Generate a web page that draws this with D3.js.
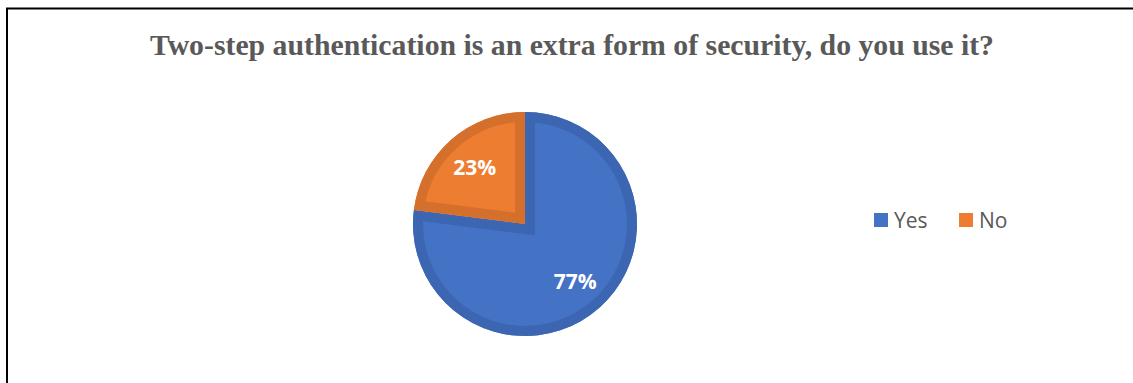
<!DOCTYPE html>
<html>
<head>
<meta charset="utf-8">
<script src="https://cdn.jsdelivr.net/npm/d3@7/dist/d3.min.js"></script>
<style>
  html, body { margin: 0; padding: 0; background: #ffffff; }
  svg { display: block; }
</style>
</head>
<body>
<svg id="chart" width="1133" height="383"></svg>
<script>
// Survey answers
const categories = ["Yes", "No"];
const values = [77, 23];
const labels = ["77%", "23%"];
const fillColors = ["#4472C4", "#ED7D31"];
const edgeColors = ["#3D66B2", "#D5702C"];
const titleText = "Two-step authentication is an extra form of security, do you use it?";

const width = 1133, height = 383;
const svg = d3.select("#chart");

// Frame: top and left rules
svg.append("path")
  .attr("d", "M7,383 L7,8.5 L1133,8.5")
  .attr("fill", "none")
  .attr("stroke", "#000")
  .attr("stroke-width", 2);

// Title
svg.append("text")
  .attr("x", 572)
  .attr("y", 55)
  .attr("text-anchor", "middle")
  .attr("font-family", "'Liberation Serif', 'Times New Roman', serif")
  .attr("font-weight", "bold")
  .attr("font-size", 29)
  .attr("fill", "#595959")
  .attr("textLength", 844)
  .attr("lengthAdjust", "spacingAndGlyphs")
  .text(titleText);

// Pie
const cx = 525, cy = 224, radius = 112, band = 10;
const pie = d3.pie().sort(null).value(d => d)(values);
const arc = d3.arc().innerRadius(0).outerRadius(radius);
const labelArc = d3.arc().innerRadius(76).outerRadius(76);

const g = svg.append("g").attr("transform", `translate(${cx},${cy})`);
const defs = svg.append("defs");

pie.forEach((p, i) => {
  const id = "slice-clip-" + i;
  defs.append("clipPath").attr("id", id)
    .append("path").attr("d", arc(p));
  g.append("path")
    .attr("d", arc(p))
    .attr("fill", fillColors[i]);
  // darker inner edge band
  g.append("path")
    .attr("d", arc(p))
    .attr("fill", "none")
    .attr("stroke", edgeColors[i])
    .attr("stroke-width", band * 2)
    .attr("stroke-linejoin", "miter")
    .attr("clip-path", `url(#${id})`);
});

// Slice labels
g.selectAll("text.val")
  .data(pie)
  .enter().append("text")
  .attr("class", "val")
  .attr("x", d => labelArc.centroid(d)[0])
  .attr("y", d => labelArc.centroid(d)[1])
  .attr("dy", "0.36em")
  .attr("text-anchor", "middle")
  .attr("font-family", "'Open Sans', 'Noto Sans', sans-serif")
  .attr("font-weight", "bold")
  .attr("font-size", 21)
  .attr("fill", "#ffffff")
  .text((d, i) => labels[i]);

// Legend
const legendItems = [
  { x: 874, text: categories[0], color: fillColors[0] },
  { x: 959, text: categories[1], color: fillColors[1] }
];
const legend = svg.append("g");
legendItems.forEach(item => {
  legend.append("rect")
    .attr("x", item.x)
    .attr("y", 213)
    .attr("width", 14)
    .attr("height", 14)
    .attr("fill", item.color);
  legend.append("text")
    .attr("x", item.x + 20)
    .attr("y", 228)
    .attr("font-family", "'Open Sans', 'Noto Sans', sans-serif")
    .attr("font-size", 21)
    .attr("fill", "#595959")
    .text(item.text);
});
</script>
</body>
</html>
